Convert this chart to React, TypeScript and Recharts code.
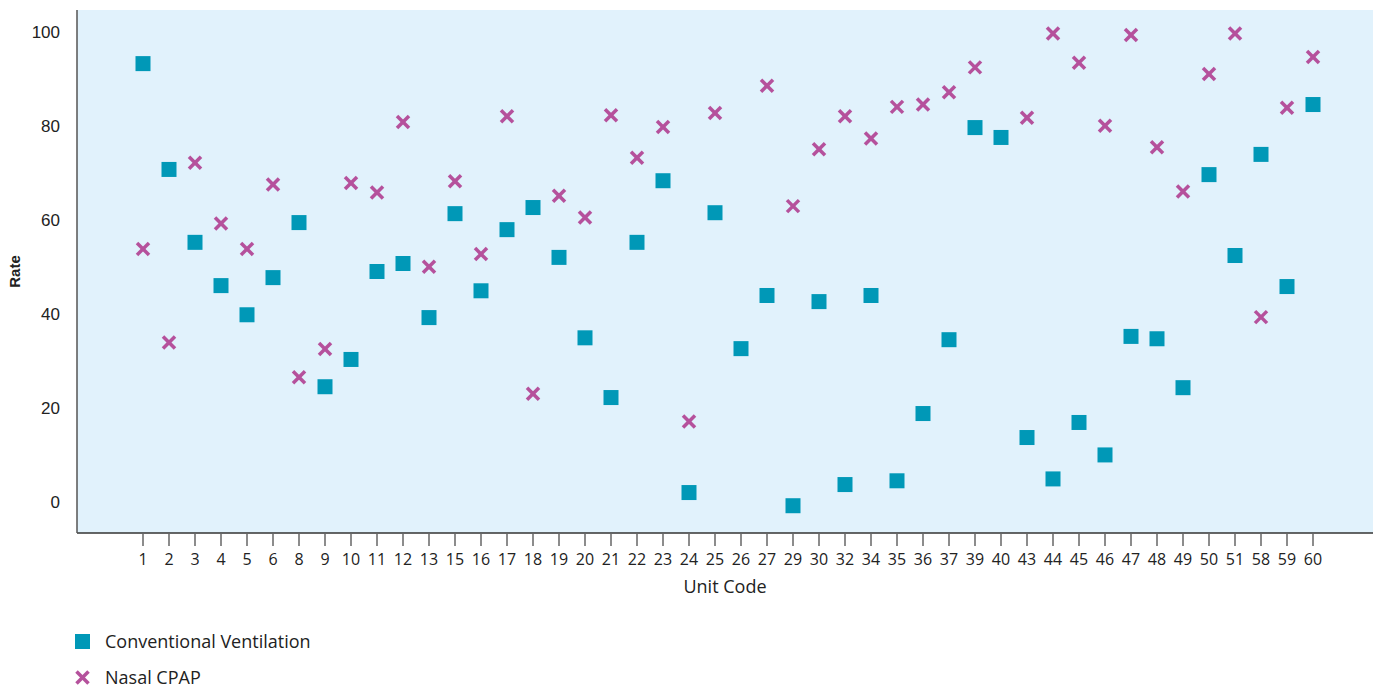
import React from 'react';
import { ScatterChart, Scatter, XAxis, YAxis, CartesianGrid, Legend } from 'recharts';

const units = ['1', '2', '3', '4', '5', '6', '8', '9', '10', '11', '12', '13', '15', '16', '17', '18', '19', '20', '21', '22', '23', '24', '25', '26', '27', '29', '30', '32', '34', '35', '36', '37', '39', '40', '43', '44', '45', '46', '47', '48', '49', '50', '51', '58', '59', '60'];

const conventional = [93.3, 70.8, 55.3, 46.1, 39.9, 47.8, 59.5, 24.6, 30.4, 49.1, 50.8, 39.3, 61.4, 45.0, 58.0, 62.7, 52.1, 35.0, 22.3, 55.3, 68.4, 2.1, 61.6, 32.7, 44.0, -0.7, 42.7, 3.8, 44.0, 4.6, 18.9, 34.6, 79.7, 77.6, 13.8, 5.0, 17.0, 10.1, 35.3, 34.8, 24.4, 69.7, 52.5, 74.0, 45.9, 84.6];

// null = no Nasal CPAP value for that unit
const nasalCpap = [53.9, 34.0, 72.2, 59.3, 53.9, 67.6, 26.6, 32.6, 67.9, 65.9, 80.9, 50.1, 68.3, 52.8, 82.1, 23.1, 65.2, 60.6, 82.3, 73.3, 79.8, 17.2, 82.8, null, 88.6, 63.0, 75.1, 82.1, 77.4, 84.1, 84.6, 87.2, 92.5, null, 81.8, 99.7, 93.5, 80.1, 99.4, 75.5, 66.1, 91.1, 99.7, 39.4, 83.9, 94.7];

const yTicks = [0, 20, 40, 60, 80, 100];

const CV_COLOR = '#0098b7';
const CPAP_COLOR = '#b5519c';

const cvData = units.map((unit, i) => ({ unit, rate: conventional[i] }));
const cpapData = units
    .map((unit, i) => ({ unit, rate: nasalCpap[i] }))
    .filter(d => d.rate !== null);

const SquareShape = (props: any) => {
    const { cx, cy } = props;
    if (cx == null || cy == null) return null;
    return <rect x={cx - 7.5} y={cy - 7.5} width={15} height={15} fill={CV_COLOR} />;
};

const CrossShape = (props: any) => {
    const { cx, cy } = props;
    if (cx == null || cy == null) return null;
    const r = 6;
    return (
        <g stroke={CPAP_COLOR} strokeWidth={3.5}>
            <line x1={cx - r} y1={cy - r} x2={cx + r} y2={cy + r} />
            <line x1={cx - r} y1={cy + r} x2={cx + r} y2={cy - r} />
        </g>
    );
};

const LegendBox = () => (
    <div style={{ height: 74, paddingLeft: 75, paddingTop: 16, boxSizing: 'border-box', fontFamily: '"Open Sans", sans-serif', fontSize: 18, color: '#222' }}>
        <div style={{ display: 'flex', alignItems: 'center', height: 20 }}>
            <svg width={15} height={15} style={{ marginRight: 15 }}>
                <rect x={0} y={0} width={15} height={15} fill={CV_COLOR} />
            </svg>
            <span>Conventional Ventilation</span>
        </div>
        <div style={{ display: 'flex', alignItems: 'center', height: 20, marginTop: 16 }}>
            <svg width={15} height={15} style={{ marginRight: 15 }}>
                <g stroke={CPAP_COLOR} strokeWidth={3.5}>
                    <line x1={1.5} y1={1.5} x2={13.5} y2={13.5} />
                    <line x1={1.5} y1={13.5} x2={13.5} y2={1.5} />
                </g>
            </svg>
            <span>Nasal CPAP</span>
        </div>
    </div>
);

export default function App() {
    return (
        <div style={{ position: 'absolute', left: 0, top: 0, width: 1386, height: 689, background: '#fff' }}>
            <ScatterChart width={1386} height={689} margin={{ top: 10, right: 13, left: 0, bottom: 0 }}>
                <CartesianGrid horizontal={false} vertical={false} fill="#e1f2fc" />
                <XAxis
                    dataKey="unit"
                    type="category"
                    allowDuplicatedCategory={false}
                    interval={0}
                    height={82}
                    padding={{ left: 53, right: 47 }}
                    stroke="#333"
                    axisLine={{ stroke: '#333', strokeWidth: 1.5 }}
                    tickLine={{ stroke: '#666', strokeWidth: 1.5 }}
                    tickSize={13}
                    tickMargin={8}
                    tick={{ fontSize: 16, fill: '#222', fontFamily: '"Open Sans", sans-serif' }}
                    label={{ value: 'Unit Code', position: 'insideBottom', offset: 22, fill: '#222', fontSize: 18, fontFamily: '"Open Sans", sans-serif' }}
                />
                <YAxis
                    dataKey="rate"
                    type="number"
                    width={77}
                    domain={[-6.5, 104.7]}
                    ticks={yTicks}
                    allowDataOverflow
                    axisLine={{ stroke: '#555', strokeWidth: 1.5 }}
                    tickLine={false}
                    tickMargin={11}
                    tick={{ fontSize: 17, fill: '#222', fontFamily: '"Liberation Sans", Arial, sans-serif' }}
                    label={{ value: 'Rate', angle: -90, position: 'insideLeft', offset: 15, fill: '#222', fontSize: 15, fontWeight: 'bold', fontFamily: '"Liberation Sans", Arial, sans-serif', style: { textAnchor: 'middle' } }}
                />
                <Legend verticalAlign="bottom" align="left" layout="horizontal" content={() => <LegendBox />} />
                <Scatter name="Conventional Ventilation" data={cvData} dataKey="rate" shape={SquareShape} isAnimationActive={false} />
                <Scatter name="Nasal CPAP" data={cpapData} dataKey="rate" shape={CrossShape} isAnimationActive={false} />
            </ScatterChart>
        </div>
    );
}
